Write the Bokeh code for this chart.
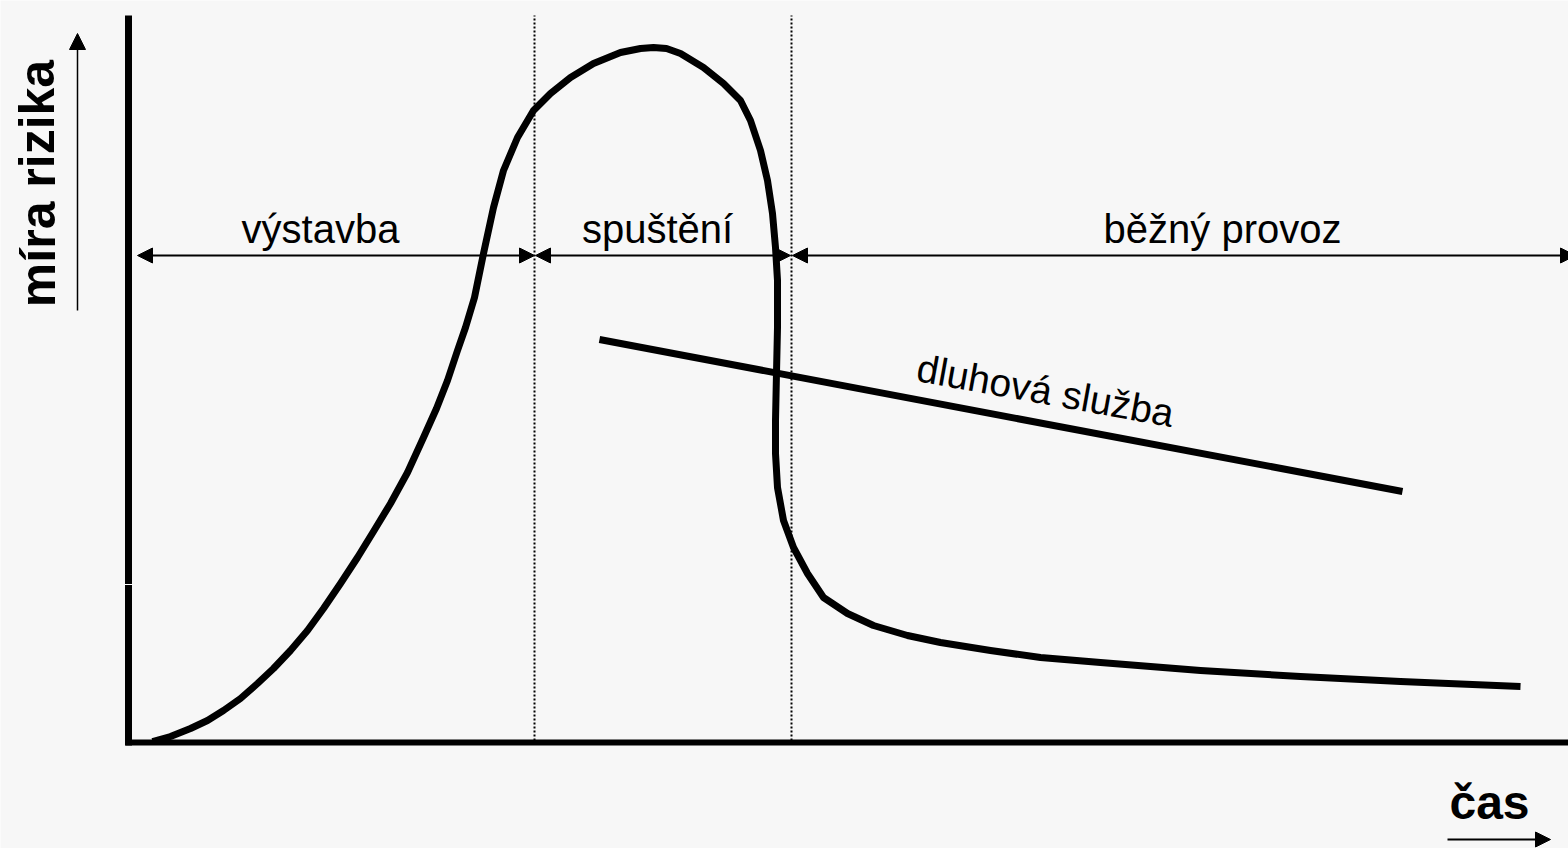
from bokeh.plotting import figure
from bokeh.models import Range1d, Arrow, NormalHead
from bokeh.core.properties import value
from bokeh.embed import file_html
from bokeh.resources import INLINE

# ---- data (time units on x, risk units on y; origin at the axis corner) ----
risk_t = [24, 42, 62, 79, 95, 112, 129, 145, 162, 179, 195, 212, 229, 245, 262, 279,
          295, 308, 319, 329, 337, 346, 355, 365, 375, 389, 405, 422, 442, 465, 492,
          512, 525, 538, 552, 575, 595, 612, 622, 632, 639, 644, 647, 649, 649, 648, 647,
          647, 649, 655, 665, 679, 695, 719, 745, 779, 812, 862, 912, 972, 1072, 1172,
          1272, 1392]
risk_v = [1, 6, 14, 22, 32, 44, 59, 74, 92, 112, 134, 159, 185, 211, 239, 270,
          305, 334, 362, 392, 415, 445, 489, 535, 572, 605, 632, 649, 665, 679, 690,
          694, 695, 694, 689, 675, 659, 642, 622, 592, 562, 529, 495, 462, 415, 370, 322,
          289, 255, 222, 195, 169, 145, 129, 117, 107, 100, 92, 85, 80, 72, 66,
          61, 56]

debt_t = [471, 1274]
debt_v = [403, 251]
debt_label = ["dluhová služba"]

phase_names = ["výstavba", "spuštění", "běžný provoz"]
phase_start = [9, 407, 664]
phase_end = [406, 662, 1447]
phase_label_x = [192, 529, 1094]
phase_level = 487
boundaries = [406, 663]

y_title = ["míra rizika"]
x_title = ["čas"]

BG = "#f7f7f7"

p = figure(width=1568, height=848,
           x_range=Range1d(-128, 1440), y_range=Range1d(-106, 742),
           output_backend="svg", toolbar_location=None, min_border=0)
p.xaxis.visible = False
p.yaxis.visible = False
p.grid.visible = False
p.background_fill_color = BG
p.border_fill_color = BG
p.outline_line_color = None

# phase boundaries (dotted)
p.segment(x0=boundaries, y0=[2, 2], x1=boundaries, y1=[727, 727],
          line_color="black", line_width=2, line_dash="2 2")

# axes
p.segment(x0=[0], y0=[-3], x1=[0], y1=[727], line_color="black", line_width=7)
p.segment(x0=[-3], y0=[0], x1=[1440], y1=[0], line_color="black", line_width=6)
p.segment(x0=[-4], y0=[158], x1=[4], y1=[158], line_color="white", line_width=1)

# phase arrows
for xs, xe in zip(phase_start, phase_end):
    p.add_layout(Arrow(x_start=xs, y_start=phase_level, x_end=xe, y_end=phase_level,
                       line_width=2, line_color="black",
                       start=NormalHead(size=15, fill_color="black", line_color="black"),
                       end=NormalHead(size=15, fill_color="black", line_color="black")))

# axis direction arrows
p.add_layout(Arrow(x_start=-51, y_start=432, x_end=-51, y_end=709, line_width=1.5,
                   end=NormalHead(size=16, fill_color="black", line_color="black")))
p.add_layout(Arrow(x_start=1319, y_start=-97, x_end=1422, y_end=-97, line_width=2,
                   end=NormalHead(size=15, fill_color="black", line_color="black")))

# curves
p.line(risk_t, risk_v, line_color="black", line_width=7, line_join="round")
p.line(debt_t, debt_v, line_color="black", line_width=7)

font = value("Liberation Sans")
p.text(x=phase_label_x, y=[514] * 3, text=phase_names, text_font=font,
       text_font_size="40px", text_align="center", text_baseline="alphabetic",
       text_color="black")
p.text(x=[789], y=[375], text=debt_label, text_font=font, text_font_size="39px",
       angle=-0.179, text_align="left", text_baseline="alphabetic", text_color="black")
p.text(x=[-91], y=[559], text=y_title, text_font=font, text_font_size="50px",
       text_font_style="bold", angle=1.5708, text_align="center",
       text_baseline="alphabetic", text_color="black")
p.text(x=[1361], y=[-60], text=x_title, text_font=font, text_font_size="48px",
       text_font_style="bold", text_align="center", text_baseline="alphabetic",
       text_color="black")

html = file_html(p, INLINE)
html = html.replace("<body>", '<body style="background-color:%s;">' % BG, 1)
open("out.html", "w").write(html)
